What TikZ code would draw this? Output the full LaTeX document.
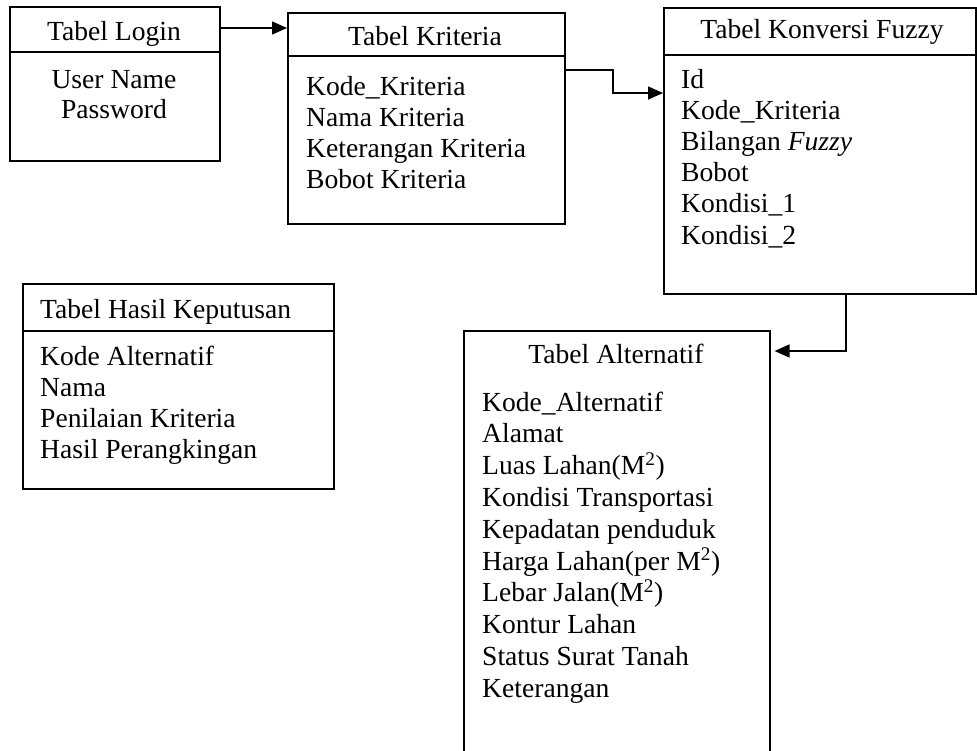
\documentclass[tikz,border=0pt]{standalone}
\usepackage{fontspec}
\setmainfont{Liberation Serif}
\usetikzlibrary{arrows.meta}
\begin{document}
\begin{tikzpicture}[x=1pt,y=-1pt,
  tablebox/.style={draw, line width=1.6pt, inner sep=0pt, anchor=north west},
  rule/.style={line width=1.6pt},
  txt/.style={inner sep=0pt, font=\fontsize{27.6}{31}\selectfont},
  arr/.style={line width=1.6pt, -{Triangle[length=15pt,width=13pt]}}]
\useasboundingbox (0,0) rectangle (977,750);

% table frames
\node[tablebox, minimum width=210pt, minimum height=154pt] (login) at (9,6) {};
\node[tablebox, minimum width=277pt, minimum height=211pt] (kriteria) at (287,12) {};
\node[tablebox, minimum width=312pt, minimum height=286pt] (konversi) at (663,7) {};
\node[tablebox, minimum width=311pt, minimum height=205pt] (hasil) at (22,283) {};
\node[tablebox, minimum width=306pt, minimum height=440pt] (alternatif) at (463,330) {};

% header rules
\draw[rule] (login.west |- 0,52) -- (login.east |- 0,52);
\draw[rule] (kriteria.west |- 0,56) -- (kriteria.east |- 0,56);
\draw[rule] (konversi.west |- 0,55) -- (konversi.east |- 0,55);
\draw[rule] (hasil.west |- 0,331) -- (hasil.east |- 0,331);

% titles
\node[txt, anchor=base] (login-t) at (114,40) {Tabel Login};
\node[txt, anchor=base] (kriteria-t) at (425,45) {Tabel Kriteria};
\node[txt, anchor=base] (konversi-t) at (822,38) {Tabel Konversi Fuzzy};
\node[txt, anchor=base west] (hasil-t) at (40,318) {Tabel Hasil Keputusan};
\node[txt, anchor=base] (alternatif-t) at (616,363) {Tabel Alternatif};

% fields
\node[txt, anchor=base] (login-1) at (114,88) {User Name};
\node[txt, anchor=base] (login-2) at (114,118) {Password};

\foreach \t [count=\i] in {Kode\_Kriteria, Nama Kriteria, Keterangan Kriteria, Bobot Kriteria}
  \node[txt, anchor=base west] (kriteria-\i) at (306,{95+31*(\i-1)}) {\t};

\foreach \t [count=\i] in {Id, Kode\_Kriteria, {Bilangan \textit{Fuzzy}}, Bobot, Kondisi\_1, Kondisi\_2}
  \node[txt, anchor=base west] (konversi-\i) at (681,{88+31.2*(\i-1)}) {\t};

\foreach \t [count=\i] in {Kode Alternatif, Nama, Penilaian Kriteria, Hasil Perangkingan}
  \node[txt, anchor=base west] (hasil-\i) at (40,{365+31*(\i-1)}) {\t};

\foreach \t [count=\i] in {Kode\_Alternatif, Alamat, {Luas Lahan(M\textsuperscript{2})}, Kondisi Transportasi,
    Kepadatan penduduk, {Harga Lahan(per M\textsuperscript{2})}, {Lebar Jalan(M\textsuperscript{2})},
    Kontur Lahan, Status Surat Tanah, Keterangan}
  \node[txt, anchor=base west] (alternatif-\i) at (482,{411+31.8*(\i-1)}) {\t};

% connectors
\coordinate (a1) at ([yshift=-22pt]login.north east);
\draw[arr] (a1) -- (a1 -| kriteria.west);

\coordinate (b1) at ([yshift=-58pt]kriteria.north east);
\coordinate (b2) at (613,93);
\draw[arr] (b1) -| (b2) -- (b2 -| konversi.west);

\coordinate (c1) at ([xshift=26pt]konversi.south);
\coordinate (c2) at ([xshift=4pt,yshift=-21pt]alternatif.north east);
\draw[arr] (c1) |- (c2);
\end{tikzpicture}
\end{document}
